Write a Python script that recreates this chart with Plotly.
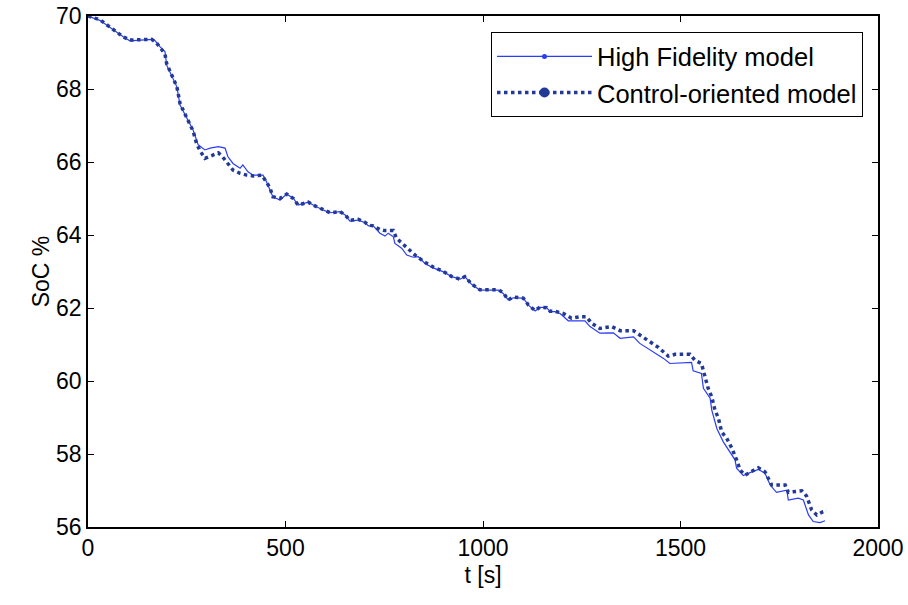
import plotly.graph_objects as go

# High Fidelity model
t_hf = [0, 5, 30, 89, 106, 161, 170, 182, 195, 199, 225, 233, 250, 266, 279, 296, 309, 330, 347, 354, 367,
        385, 392, 405, 418, 443, 452, 468, 486, 503, 520, 532, 558, 570, 596, 613, 638, 651, 663, 684,
        701, 710, 722, 739, 752, 760, 773, 777, 794, 807, 823, 836, 853, 874, 900, 921, 942, 954, 971,
        992, 1018, 1039, 1051, 1064, 1077, 1102, 1115, 1132, 1144, 1161, 1170, 1182, 1195, 1216, 1258,
        1271, 1296, 1330, 1347, 1381, 1397, 1423, 1457, 1473, 1528, 1532, 1553, 1558, 1575, 1579, 1592,
        1608, 1625, 1638, 1642, 1659, 1676, 1697, 1714, 1727, 1743, 1769, 1773, 1798, 1811, 1824, 1836,
        1853, 1866]
soc_hf = [70.0, 69.98, 69.88, 69.43, 69.32, 69.36, 69.32, 69.16, 69.02, 68.66, 68.06, 67.56, 67.21, 66.88,
          66.47, 66.33, 66.38, 66.42, 66.38, 66.15, 65.96, 65.83, 65.92, 65.73, 65.64, 65.64, 65.46, 65.05,
          64.96, 65.12, 65.0, 64.82, 64.90, 64.82, 64.68, 64.61, 64.64, 64.55, 64.38, 64.41, 64.34, 64.25,
          64.25, 64.05, 63.97, 64.05, 63.95, 63.77, 63.64, 63.45, 63.39, 63.41, 63.22, 63.10, 62.99, 62.86,
          62.79, 62.86, 62.65, 62.49, 62.49, 62.49, 62.40, 62.22, 62.28, 62.27, 62.08, 61.92, 62.02, 62.01,
          61.90, 61.90, 61.85, 61.65, 61.65, 61.49, 61.31, 61.32, 61.17, 61.21, 61.03, 60.85, 60.62, 60.48,
          60.51, 60.28, 60.21, 59.80, 59.53, 59.21, 58.70, 58.34, 58.06, 57.84, 57.61, 57.41, 57.49, 57.58,
          57.47, 57.15, 56.95, 57.01, 56.74, 56.79, 56.74, 56.33, 56.15, 56.12, 56.17]

# Control-oriented model
t_co = [0, 30, 89, 106, 161, 170, 182, 195, 199, 225, 233, 250, 266, 275, 284, 296, 309, 330, 340, 354,
        367, 385, 402, 418, 440, 452, 461, 468, 486, 503, 520, 532, 558, 570, 596, 613, 638, 651, 663,
        684, 701, 710, 722, 739, 752, 760, 773, 781, 800, 828, 853, 874, 900, 921, 942, 954, 971, 992,
        1039, 1051, 1064, 1077, 1102, 1115, 1132, 1144, 1161, 1170, 1182, 1203, 1224, 1246, 1262, 1275,
        1296, 1326, 1347, 1381, 1397, 1418, 1444, 1469, 1486, 1524, 1537, 1553, 1562, 1570, 1579, 1587,
        1596, 1604, 1617, 1630, 1642, 1651, 1663, 1680, 1697, 1714, 1731, 1765, 1773, 1807, 1819, 1832,
        1845, 1861, 1870]
soc_co = [70.0, 69.9, 69.43, 69.34, 69.36, 69.30, 69.15, 68.95, 68.7, 68.06, 67.6, 67.2, 66.85, 66.5,
          66.3, 66.1, 66.15, 66.25, 66.15, 65.95, 65.78, 65.69, 65.64, 65.62, 65.64, 65.45, 65.28, 65.05,
          65.0, 65.12, 65.0, 64.82, 64.90, 64.82, 64.68, 64.61, 64.64, 64.55, 64.40, 64.43, 64.35, 64.27,
          64.25, 64.15, 64.12, 64.12, 64.12, 63.91, 63.73, 63.45, 63.25, 63.12, 63.0, 62.86, 62.79, 62.86,
          62.66, 62.50, 62.50, 62.42, 62.22, 62.30, 62.27, 62.08, 61.93, 62.02, 62.01, 61.91, 61.91, 61.85,
          61.72, 61.76, 61.76, 61.58, 61.44, 61.49, 61.38, 61.38, 61.26, 61.12, 60.92, 60.68, 60.73, 60.73,
          60.56, 60.48, 60.16, 59.80, 59.57, 59.21, 58.98, 58.61, 58.43, 58.16, 57.84, 57.56, 57.42, 57.51,
          57.62, 57.51, 57.15, 57.15, 56.95, 56.99, 56.85, 56.47, 56.33, 56.42, 56.45]

x_ticks = [0, 500, 1000, 1500, 2000]
y_ticks = [56, 58, 60, 62, 64, 66, 68, 70]

HF_COLOR = "#2a3cf5"
CO_COLOR = "#223a96"
FONT = "Liberation Sans, Arial, sans-serif"
FS = 23

fig = go.Figure()
fig.add_trace(go.Scatter(x=t_hf, y=soc_hf, mode="lines", line=dict(color=HF_COLOR, width=1.2),
                         showlegend=False))
fig.add_trace(go.Scatter(x=t_co, y=soc_co, mode="lines", line=dict(color=CO_COLOR, width=3.5, dash="dot"),
                         showlegend=False))
# legend entries
fig.add_trace(go.Scatter(x=[None], y=[None], mode="lines+markers", name="High Fidelity model",
                         legendgroup="a",
                         line=dict(color=HF_COLOR, width=1.2), marker=dict(size=5, color=HF_COLOR)))
fig.add_trace(go.Scatter(x=[None], y=[None], mode="lines+markers", name="Control-oriented model",
                         legendgroup="b",
                         line=dict(color=CO_COLOR, width=3.5, dash="dot"), marker=dict(size=10, color=CO_COLOR)))

axis_common = dict(showline=True, linecolor="black", linewidth=1.5, mirror="allticks", ticks="inside",
                   ticklen=6, tickcolor="black", showgrid=False, zeroline=False, automargin=False,
                   tickfont=dict(family=FONT, size=FS, color="black"))

fig.update_layout(
    width=908, height=605,
    margin=dict(l=88, r=30, t=16, b=78, autoexpand=False),
    plot_bgcolor="white", paper_bgcolor="white",
    font=dict(family=FONT, size=FS, color="black"),
    xaxis=dict(range=[0, 2000], tickvals=x_ticks, title=dict(text="t [s]", font=dict(size=FS), standoff=7),
               **axis_common),
    yaxis=dict(range=[56, 70], tickvals=y_ticks, title=dict(text="SoC %", font=dict(size=FS), standoff=0),
               **axis_common),
    legend=dict(x=0.981, y=0.968, xanchor="right", yanchor="top", bordercolor="black", borderwidth=1,
                bgcolor="white", font=dict(family=FONT, size=25.5, color="black"), itemwidth=95,
                tracegroupgap=0),
)

fig.write_html("out.html")
